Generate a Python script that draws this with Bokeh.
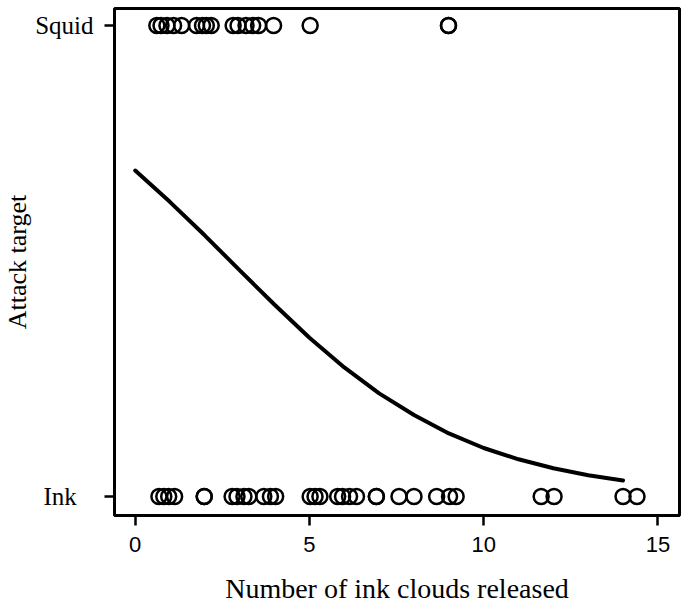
from bokeh.plotting import figure
from bokeh.models import Range1d, FixedTicker, ColumnDataSource
from bokeh.embed import file_html
from bokeh.resources import INLINE

# Observations: number of ink clouds released, by attack target
squid_clouds = [0.62, 0.74, 0.91, 1.10, 1.33, 1.76, 1.93, 2.04, 2.18,
                2.81, 2.95, 3.18, 3.37, 3.54, 3.97, 5.02, 8.99, 8.99]
ink_clouds = [0.68, 0.82, 0.96, 1.13, 1.98, 1.98, 2.78, 2.92, 3.12, 3.26,
              3.69, 3.88, 4.03, 5.02, 5.16, 5.30, 5.81, 5.95, 6.15, 6.35,
              6.92, 6.92, 7.57, 8.00, 8.65, 9.02, 9.21, 11.65, 12.02,
              14.00, 14.40]

# Fitted curve (probability of attacking squid)
curve_x = [0, 1, 2, 3, 4, 5, 6, 7, 8, 9, 10, 11, 12, 13, 14]
curve_p = [0.692, 0.625, 0.554, 0.480, 0.407, 0.337, 0.274, 0.219, 0.173,
           0.134, 0.103, 0.079, 0.060, 0.045, 0.034]

x_ticks = [0, 5, 10, 15]
y_ticks = [0, 1]
# trailing fixed-width spaces keep "Ink" visually centred under "Squid"
y_tick_labels = {0: "Ink\u2002\u2006", 1: "Squid"}

serif = "Liberation Serif"
sans = "Liberation Sans"

p = figure(width=685, height=612, output_backend="svg", toolbar_location=None,
           x_range=Range1d(-0.595, 15.62), y_range=Range1d(-0.0403, 1.036))
p.min_border_left = 107
p.min_border_right = 6
p.min_border_top = 8
p.min_border_bottom = 97

p.background_fill_color = "white"
p.border_fill_color = "white"
p.outline_line_color = "black"
p.outline_line_width = 3
p.outline_line_alpha = 1.0
p.xgrid.visible = False
p.ygrid.visible = False

src_s = ColumnDataSource(dict(x=squid_clouds, y=[1] * len(squid_clouds)))
src_i = ColumnDataSource(dict(x=ink_clouds, y=[0] * len(ink_clouds)))
p.scatter("x", "y", source=src_s, marker="circle", size=15, fill_alpha=0,
          line_color="black", line_width=2.5)
p.scatter("x", "y", source=src_i, marker="circle", size=15, fill_alpha=0,
          line_color="black", line_width=2.5)

p.line(curve_x, curve_p, line_color="black", line_width=4, line_cap="round")

# X axis
xa = p.xaxis[0]
xa.ticker = FixedTicker(ticks=x_ticks)
xa.axis_line_color = None
xa.major_tick_in = 0
xa.major_tick_out = 10
xa.major_tick_line_width = 2.5
xa.minor_tick_line_color = None
xa.major_label_standoff = 11
xa.major_label_text_font = sans
xa.major_label_text_font_size = "22px"
xa.major_label_text_color = "black"
xa.axis_label = "Number of ink clouds released"
xa.axis_label_text_font = serif
xa.axis_label_text_font_style = "normal"
xa.axis_label_text_font_size = "28px"
xa.axis_label_standoff = 18
xa.axis_label_text_color = "black"

# Y axis
ya = p.yaxis[0]
ya.ticker = FixedTicker(ticks=y_ticks)
ya.major_label_overrides = y_tick_labels
ya.axis_line_color = None
ya.major_tick_in = 0
ya.major_tick_out = 10
ya.major_tick_line_width = 2.5
ya.minor_tick_line_color = None
ya.major_label_standoff = 11
ya.major_label_orientation = "horizontal"
ya.major_label_text_font = serif
ya.major_label_text_font_size = "25px"
ya.major_label_text_color = "black"
ya.axis_label = "Attack target"
ya.axis_label_text_font = serif
ya.axis_label_text_font_style = "normal"
ya.axis_label_text_font_size = "26px"
ya.axis_label_standoff = 0
ya.axis_label_text_color = "black"

open("out.html", "w").write(file_html(p, INLINE))
